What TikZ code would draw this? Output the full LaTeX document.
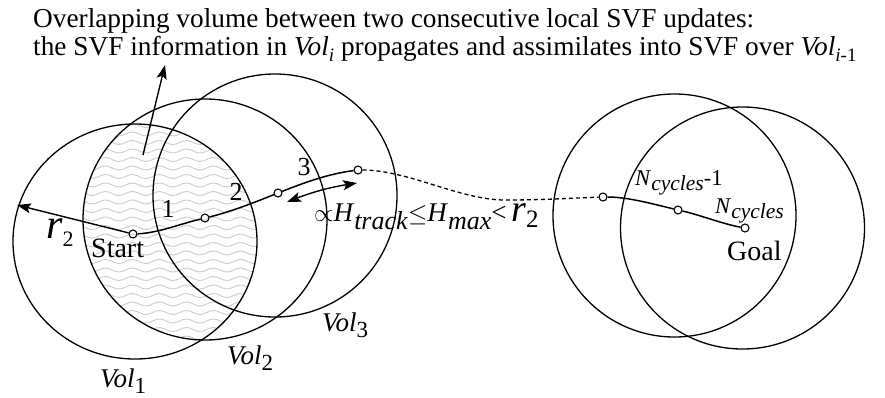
\documentclass[tikz,border=0pt]{standalone}
\usepackage{fontspec}
\setmainfont{Liberation Serif}
\usetikzlibrary{arrows.meta,decorations.pathmorphing}
\newcommand\Sb[3]{\raisebox{-#1}{\fontsize{#2}{#2}\selectfont#3}}
\begin{document}
\begin{tikzpicture}[x=1pt,y=-1pt,
  vol/.style={line width=1.3pt},
  wp/.style={circle,draw,line width=1.1pt,inner sep=0pt,minimum size=8pt},
  trk/.style={line width=1.5pt},
  tip/.style={-{Stealth[length=14pt,width=10pt,inset=3pt]},line width=1.4pt},
  dtip/.style={{Stealth[length=14pt,width=10pt,inset=3pt]}-{Stealth[length=14pt,width=10pt,inset=3pt]},line width=1.4pt},
  wave/.style={draw=black!20,line width=0.9pt,decorate,decoration={snake,amplitude=2pt,segment length=27pt}},
  lbl/.style={inner sep=0pt,anchor=base west}]
\useasboundingbox (0,0) rectangle (885,397);

% shaded overlap of Vol1 and Vol2
\begin{scope}
  \clip (135,241.5) ellipse [x radius=122pt,y radius=117.5pt];
  \clip (205,219.5) ellipse [x radius=122pt,y radius=120.5pt];
  \foreach \yy in {100,108.5,...,360} \draw[wave] (70,\yy) -- (270,\yy);
\end{scope}

% volumes
\draw[vol] (135,241.5) ellipse [x radius=122pt,y radius=117.5pt];
\draw[vol] (205,219.5) ellipse [x radius=122pt,y radius=120.5pt];
\draw[vol] (275,195.5) ellipse [x radius=122pt,y radius=121.5pt];
\draw[vol] (674.5,215.5) ellipse [x radius=121.5pt,y radius=121.5pt];
\draw[vol] (742.5,228) ellipse [x radius=122pt,y radius=121pt];

% waypoints
\node[wp] (s)  at (133,234) {};
\node[wp] (p1) at (205,218) {};
\node[wp] (p2) at (278,193) {};
\node[wp] (p3) at (358,170) {};
\node[wp] (q)  at (603,197) {};
\node[wp] (r)  at (678,210) {};
\node[wp] (g)  at (745,228) {};
\coordinate (dm) at (505,200);
\coordinate (rt) at (17,205);
\coordinate (ha) at (287,202);
\coordinate (hb) at (357,183);
\coordinate (ua) at (143,155);
\coordinate (ub) at (165,65);

% track
\draw[trk] (s) .. controls +(25,-1) and +(-25,6) .. (p1);
\draw[trk] (p1) .. controls +(25,-6) and +(-25,10) .. (p2);
\draw[trk] (p2) .. controls +(28,-11) and +(-30,4) .. (p3);
\draw[line width=1.3pt,dash pattern=on 4pt off 3pt] (p3) .. controls +(50,0) and +(-45,0) .. (dm)
   .. controls +(40,0) and +(-30,1) .. (q);
\draw[trk] (q) .. controls +(25,0) and +(-25,-6) .. (r);
\draw[trk] (r) .. controls +(22,5) and +(-22,-4) .. (g);

% arrows
\draw[tip] (s) -- (rt);
\draw[dtip] (ha) to[bend left=6] (hb);
\draw[tip] (ua) -- (ub);

% texts
\node[lbl] (t1) at (33,27) {\fontsize{27.3}{27}\selectfont Overlapping volume between two consecutive local SVF updates:};
\node[lbl] (t2) at (33,55) {\fontsize{27.3}{27}\selectfont the SVF information in \textit{Vol}\Sb{6pt}{19}{\textit{i}} propagates and assimilates into SVF over \textit{Vol}\Sb{6pt}{19}{\textit{i}-1}};

\node[lbl] (v1) at (100,387) {\fontsize{27}{27}\selectfont\textit{Vol}\Sb{6pt}{23}{1}};
\node[lbl] (v2) at (227,364) {\fontsize{27}{27}\selectfont\textit{Vol}\Sb{6pt}{23}{2}};
\node[lbl] (v3) at (322,331) {\fontsize{27}{27}\selectfont\textit{Vol}\Sb{6pt}{23}{3}};

\node[lbl] (st) at (91,257) {\fontsize{28}{28}\selectfont Start};
\node[lbl] (gl) at (727,260) {\fontsize{28}{28}\selectfont Goal};
\node[inner sep=0pt,anchor=base] (n1) at (168,217) {\fontsize{26}{26}\selectfont 1};
\node[inner sep=0pt,anchor=base] (n2) at (236,200) {\fontsize{26}{26}\selectfont 2};
\node[inner sep=0pt,anchor=base] (n3) at (304,175) {\fontsize{26}{26}\selectfont 3};
\node[lbl] (rr) at (46,238) {\fontsize{42}{42}\selectfont\textit{r}\Sb{8pt}{22}{2}};

\node[lbl] (hl) at (314,221) {\fontsize{27}{27}\selectfont$\propto$\textit{H}\Sb{8pt}{26}{\textit{track}}$\le$\textit{H}\Sb{8pt}{26}{\textit{max}}<\,{\fontsize{38}{38}\selectfont\textit{r}}\Sb{6pt}{25}{2}};

\node[lbl] (nc1) at (635,185) {\fontsize{22.5}{22}\selectfont\textit{N}\Sb{5pt}{21.5}{\textit{cycles}}-1};
\node[lbl] (nc) at (715,213) {\fontsize{22.5}{22}\selectfont\textit{N}\Sb{5pt}{21.5}{\textit{cycles}}};
\end{tikzpicture}
\end{document}
